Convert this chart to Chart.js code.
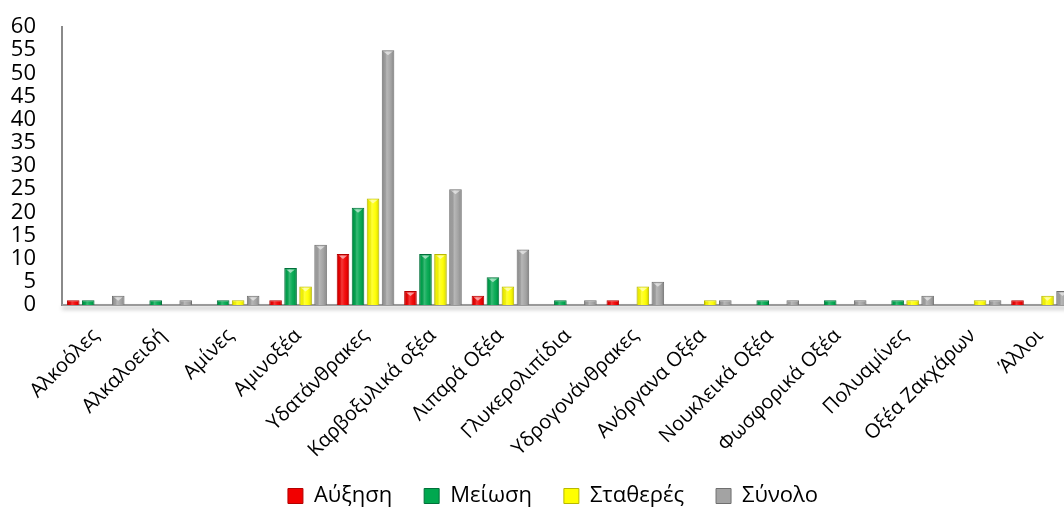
<!DOCTYPE html>
<html>
<head>
<meta charset="utf-8">
<script src="https://cdn.jsdelivr.net/npm/chart.js@4.4.1/dist/chart.umd.min.js"></script>
<style>
  html, body { margin: 0; padding: 0; background: #ffffff; overflow: hidden; }
  #wrap { position: relative; width: 1076px; height: 507px; }
</style>
</head>
<body>
<div id="wrap"><canvas id="chart"></canvas></div>
<script>
// Categories of compounds
const categories = [
  'Αλκοόλες', 'Αλκαλοειδή', 'Αμίνες', 'Αμινοξέα', 'Υδατάνθρακες',
  'Καρβοξυλικά οξέα', 'Λιπαρά Οξέα', 'Γλυκερολιπίδια', 'Υδρογονάνθρακες',
  'Ανόργανα Οξέα', 'Νουκλεικά Οξέα', 'Φωσφορικά Οξέα', 'Πολυαμίνες',
  'Οξέα Ζακχάρων', 'Άλλοι'
];

// Counts per category
const increase = [1, 0, 0, 1, 11, 3, 2, 0, 1, 0, 0, 0, 0, 0, 1];
const decrease = [1, 1, 1, 8, 21, 11, 6, 1, 0, 0, 1, 1, 1, 0, 0];
const stable   = [0, 0, 1, 4, 23, 11, 4, 0, 4, 1, 0, 0, 1, 1, 2];
const total    = [2, 1, 2, 13, 55, 25, 12, 1, 5, 1, 1, 1, 2, 1, 3];

const seriesNames = ['Αύξηση', 'Μείωση', 'Σταθερές', 'Σύνολο'];

// Value axis ticks
const yMin = 0;
const yMax = 60;
const yStep = 5;

const FONT = "'Open Sans', 'Noto Sans', sans-serif";
const PLOT_BOTTOM = 305;
const PAD_BOTTOM = 2;

// Glassy shading drawn on top of each bar element
const glossPlugin = {
  id: 'gloss',
  beforeDatasetsDraw(chart) {
    // soft shadow along the category axis
    const a = chart.chartArea;
    const ctx = chart.ctx;
    ctx.save();
    ctx.shadowColor = 'rgba(0,0,0,0.35)';
    ctx.shadowBlur = 4;
    ctx.shadowOffsetY = 3;
    ctx.strokeStyle = '#9a9a9a';
    ctx.lineWidth = 2;
    ctx.beginPath();
    ctx.moveTo(a.left, a.bottom);
    ctx.lineTo(a.right, a.bottom);
    ctx.stroke();
    ctx.restore();
  },
  afterDatasetsDraw(chart) {
    const ctx = chart.ctx;
    chart.data.datasets.forEach((ds, i) => {
      const meta = chart.getDatasetMeta(i);
      meta.data.forEach(bar => {
        const p = bar.getProps(['x', 'y', 'base', 'width'], true);
        const h = p.base - p.y;
        if (h <= 0.5) return;
        const l = p.x - p.width / 2;
        const w = p.width;
        ctx.save();
        const g = ctx.createLinearGradient(l, 0, l + w, 0);
        g.addColorStop(0, 'rgba(0,0,0,0.30)');
        g.addColorStop(0.18, 'rgba(0,0,0,0.05)');
        g.addColorStop(0.4, 'rgba(255,255,255,0.22)');
        g.addColorStop(0.65, 'rgba(255,255,255,0.05)');
        g.addColorStop(0.85, 'rgba(0,0,0,0.08)');
        g.addColorStop(1, 'rgba(0,0,0,0.32)');
        ctx.fillStyle = g;
        ctx.fillRect(l + 1, p.y + 1, w - 2, h - 1);
        if (h > 7) {
          ctx.beginPath();
          ctx.moveTo(l + 2, p.y + 1.5);
          ctx.lineTo(l + w - 2, p.y + 1.5);
          ctx.lineTo(p.x, p.y + 5);
          ctx.closePath();
          ctx.fillStyle = 'rgba(255,255,255,0.55)';
          ctx.fill();
        }
        ctx.restore();
      });
    });
  }
};

// Places the legend block under the plot and lets the slanted
// category labels run down past the axis box
const legendPlacement = {
  id: 'legendPlacement',
  afterLayout(chart) {
    const lg = chart.legend;
    if (lg) {
      lg.left += 15; lg.right += 15;
      lg.top += 12; lg.bottom += 12;
    }
    const x = chart.scales.x;
    if (x) x.bottom = chart.height;
  }
};

const palette = [
  { fill: '#f20000', border: '#b40000' },
  { fill: '#00a84f', border: '#00703a' },
  { fill: '#ffff00', border: '#b8b800' },
  { fill: '#a3a3a3', border: '#6f6f6f' }
];

const seriesData = [increase, decrease, stable, total];

const datasets = seriesData.map((values, i) => ({
  label: seriesNames[i],
  data: values,
  backgroundColor: palette[i].fill,
  borderColor: palette[i].border,
  borderWidth: 1,
  borderSkipped: 'bottom',
  categoryPercentage: 0.89,
  barPercentage: 0.84
}));

new Chart(document.getElementById('chart'), {
  type: 'bar',
  data: { labels: categories, datasets },
  plugins: [glossPlugin, legendPlacement],
  options: {
    responsive: true,
    maintainAspectRatio: false,
    animation: false,
    layout: { padding: { left: 0, right: 0, top: 27, bottom: PAD_BOTTOM } },
    plugins: {
      tooltip: { enabled: false },
      legend: {
        position: 'bottom',
        labels: {
          color: '#000000',
          font: { family: FONT, size: 22 },
          boxWidth: 15,
          boxHeight: 15,
          padding: 32
        }
      }
    },
    scales: {
      x: {
        grid: { display: false, drawTicks: false },
        border: { display: true, color: '#8a8a8a', width: 2 },
        ticks: {
          color: '#000000',
          font: { family: FONT, size: 20 },
          maxRotation: 45,
          minRotation: 45,
          autoSkip: false,
          padding: 19
        },
        afterFit(scale) {
          const lg = scale.chart.legend;
          const lh = lg && lg.height ? lg.height : 40;
          scale.height = scale.chart.height - PLOT_BOTTOM - lh - PAD_BOTTOM;
        }
      },
      y: {
        min: yMin,
        max: yMax,
        grid: { display: false, drawTicks: false },
        border: { display: true, color: '#8a8a8a', width: 2 },
        ticks: {
          stepSize: yStep,
          autoSkip: false,
          color: '#000000',
          font: { family: FONT, size: 22 },
          padding: 26
        },
        afterFit(scale) {
          scale.width = 62;
          scale.paddingTop = 0;
          scale.paddingBottom = 0;
        }
      }
    }
  }
});
</script>
</body>
</html>
